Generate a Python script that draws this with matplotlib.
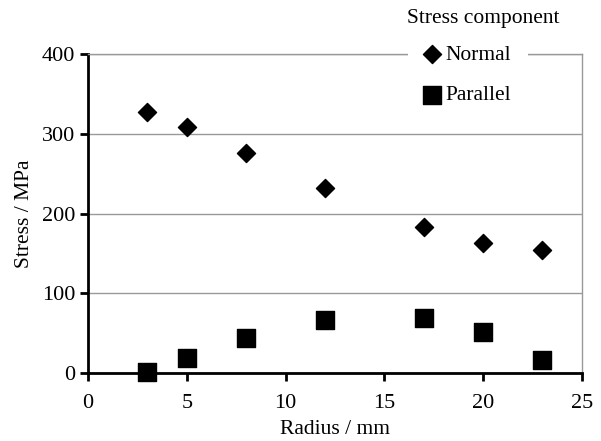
import matplotlib.pyplot as plt
import numpy as np

# radius (mm) and stress (MPa)
radius = [3, 5, 8, 12, 17, 20, 23]
normal = [327, 308, 276, 232, 183, 163, 154]
parallel = [1, 19, 44, 66, 69, 52, 17]

plt.rcParams['font.family'] = ['Liberation Serif', 'DejaVu Serif']

fig = plt.figure(figsize=(6.01, 4.41), dpi=100)
ax = fig.add_axes([0.1464, 0.154, 0.8220, 0.7236])

ax.scatter(radius, normal, marker='D', s=85, color='black', label='Normal', zorder=3, clip_on=False)
ax.scatter(radius, parallel, marker='s', s=150, color='black', label='Parallel', zorder=3, clip_on=False)

ax.set_xlim(0, 25)
ax.set_ylim(0, 400)
ax.set_xticks(np.arange(0, 26, 5))
ax.set_yticks(np.arange(0, 401, 100))
ax.yaxis.grid(True, color='#999999', linewidth=1)
ax.set_axisbelow(True)

ax.spines['left'].set_linewidth(2)
ax.spines['bottom'].set_linewidth(2)
ax.spines['right'].set_color('#999999')
ax.spines['right'].set_linewidth(1)
ax.spines['top'].set_color('#999999')
ax.spines['top'].set_linewidth(1)
ax.tick_params(axis='y', direction='out', length=6, width=2, labelsize=16, pad=3)
ax.tick_params(axis='x', direction='out', length=6, width=2, labelsize=16, pad=9)

ax.set_xlabel('Radius / mm', fontsize=15.5, labelpad=5)
ax.set_ylabel('Stress / MPa', fontsize=15.5, labelpad=6)

# legend box without title, title written separately above it
leg = ax.legend(loc='center', bbox_to_anchor=(468 / 601, 1 - 75 / 441),
                bbox_transform=fig.transFigure,
                fontsize=15.5, frameon=True, facecolor='white',
                edgecolor='none', framealpha=1, handlelength=0.7, handletextpad=0.25,
                borderpad=0.8, labelspacing=0.95, scatterpoints=1)
leg.set_zorder(5)
fig.text(483 / 601, 1 - 18 / 441, 'Stress component', fontsize=15.5, ha='center', va='center')

fig.savefig('out.png', dpi=100)
